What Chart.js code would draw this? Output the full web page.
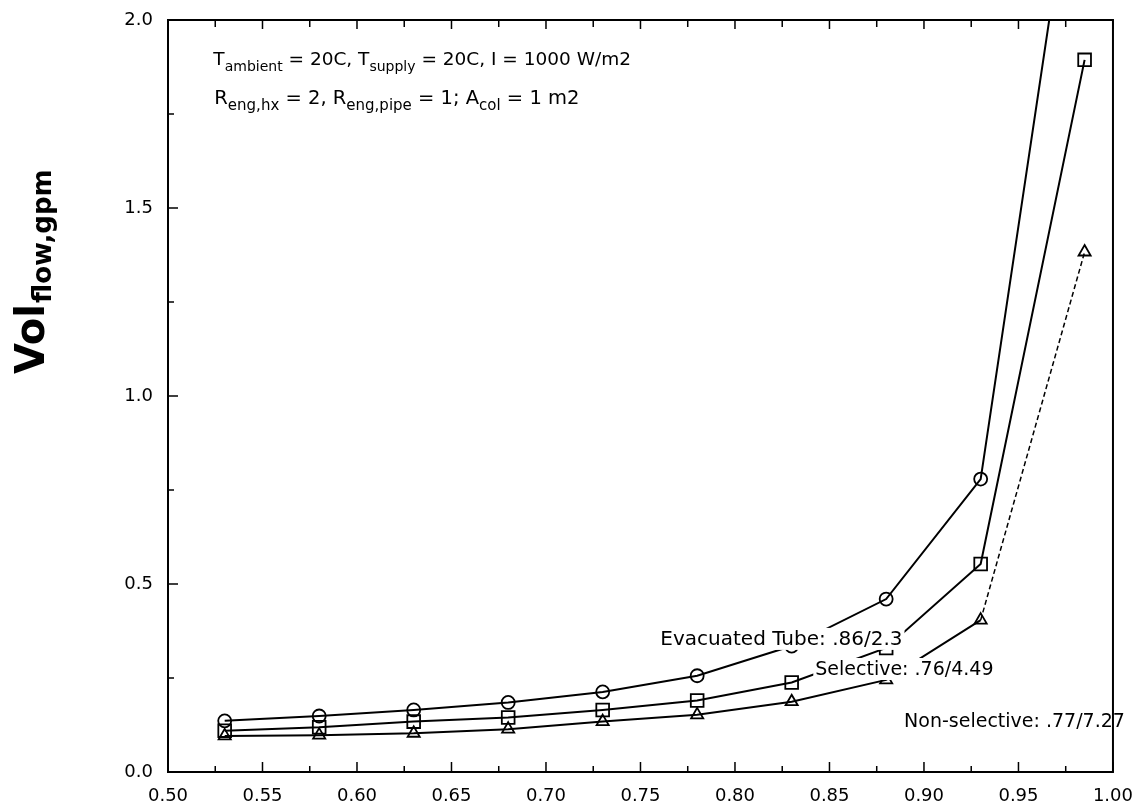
<!DOCTYPE html>
<html>
<head>
<meta charset="utf-8">
<script src="https://cdn.jsdelivr.net/npm/chart.js@4/dist/chart.umd.min.js"></script>
<style>
  body { margin: 0; background: #fff; }
  #wrap { width: 1139px; height: 809px; }
</style>
</head>
<body>
<div id="wrap"><canvas id="flow-chart"></canvas></div>
<script>
// efficiency values on x, flow rate (gpm) on y
const effValues = [0.53, 0.58, 0.63, 0.68, 0.73, 0.78, 0.83, 0.88, 0.93, 0.985];
const evacuatedFlow = [0.136, 0.149, 0.165, 0.185, 0.213, 0.256, 0.335, 0.46, 0.779, 2.63];
const selectiveFlow = [0.110, 0.119, 0.134, 0.145, 0.165, 0.190, 0.238, 0.33, 0.553, 1.894];
const nonSelectiveFlow = [0.096, 0.098, 0.103, 0.114, 0.134, 0.152, 0.187, 0.245, 0.404, 1.383];

const seriesLabels = ['Evacuated Tube: .86/2.3', 'Selective: .76/4.49', 'Non-selective: .77/7.27'];
const xTickStep = 0.05;
const yTickStep = 0.5;

const FONT = '"DejaVu Sans", sans-serif';

function toPoints(ys) {
  return effValues.map((x, i) => ({ x: x, y: ys[i] }));
}

// draw text made of normal and subscript pieces
function drawRich(ctx, parts, x, y, size) {
  let cx = x;
  parts.forEach(p => {
    const sub = p[1] === 'sub';
    ctx.font = (sub ? Math.round(size * 0.78) : size) + 'px ' + FONT;
    ctx.fillText(p[0], cx, sub ? y + size * 0.32 : y);
    cx += ctx.measureText(p[0]).width;
  });
  return cx - x;
}

const decorations = {
  id: 'decorations',
  afterDatasetsDraw(chart) {
    const ctx = chart.ctx;
    const a = chart.chartArea;
    const xs = chart.scales.x, ys = chart.scales.y;
    ctx.save();
    ctx.fillStyle = '#000';
    ctx.textBaseline = 'alphabetic';

    // curve labels, on white so they hide the lines behind them
    const labelSpots = [
      { text: seriesLabels[0], x: 0.7605, y: 0.338, size: 20 },
      { text: seriesLabels[1], x: 0.8425, y: 0.258, size: 19 },
      { text: seriesLabels[2], x: 0.8895, y: 0.120, size: 19 }
    ];
    labelSpots.forEach(l => {
      ctx.font = l.size + 'px ' + FONT;
      const px = xs.getPixelForValue(l.x);
      const py = ys.getPixelForValue(l.y);
      const w = ctx.measureText(l.text).width;
      ctx.fillStyle = '#fff';
      ctx.fillRect(px - 2, py - 17, w + 4, 22);
      ctx.fillStyle = '#000';
      ctx.fillText(l.text, px, py);
    });

    // conditions text at top left
    drawRich(ctx, [['T', ''], ['ambient', 'sub'], [' = 20C, T', ''], ['supply', 'sub'], [' = 20C, I = 1000 W/m2', '']],
      xs.getPixelForValue(0.524), ys.getPixelForValue(1.881), 18.5);
    drawRich(ctx, [['R', ''], ['eng,hx', 'sub'], [' = 2, R', ''], ['eng,pipe', 'sub'], [' = 1; A', ''], ['col', 'sub'], [' = 1 m2', '']],
      xs.getPixelForValue(0.5245), ys.getPixelForValue(1.777), 19.5);

    // frame
    ctx.strokeStyle = '#000';
    ctx.lineWidth = 2;
    ctx.strokeRect(a.left, a.top, a.right - a.left, a.bottom - a.top);

    // inward ticks: bottom, top and left
    ctx.lineWidth = 1.5;
    ctx.beginPath();
    for (let v = 0.5; v <= 1.0001; v += xTickStep / 2) {
      const px = xs.getPixelForValue(v);
      const major = Math.abs(Math.round(v / xTickStep) * xTickStep - v) < 1e-6;
      const len = major ? 10 : 6;
      ctx.moveTo(px, a.bottom); ctx.lineTo(px, a.bottom - len);
      ctx.moveTo(px, a.top); ctx.lineTo(px, a.top + (major ? 9 : 7));
    }
    for (let v = 0; v <= 2.0001; v += yTickStep / 2) {
      const py = ys.getPixelForValue(v);
      const major = Math.abs(Math.round(v / yTickStep) * yTickStep - v) < 1e-6;
      ctx.moveTo(a.left, py); ctx.lineTo(a.left + (major ? 10 : 6), py);
    }
    ctx.stroke();

    // y axis title, rotated, with subscript
    ctx.translate(44, 374);
    ctx.rotate(-Math.PI / 2);
    ctx.font = 'bold 40px ' + FONT;
    ctx.fillText('Vol', 0, 0);
    const w = ctx.measureText('Vol').width;
    ctx.font = 'bold 26px ' + FONT;
    ctx.fillText('flow,gpm', w + 1, 7);
    ctx.restore();
  }
};

const ctx = document.getElementById('flow-chart').getContext('2d');

const lineStyle = {
  borderColor: '#000',
  borderWidth: 2,
  pointBorderColor: '#000',
  pointBackgroundColor: 'rgba(0,0,0,0)',
  pointBorderWidth: 1.8,
  tension: 0,
  fill: false
};

new Chart(ctx, {
  type: 'line',
  data: {
    datasets: [
      Object.assign({ label: seriesLabels[0], data: toPoints(evacuatedFlow), pointStyle: 'circle', pointRadius: 6.5 }, lineStyle),
      Object.assign({ label: seriesLabels[1], data: toPoints(selectiveFlow), pointStyle: 'rect', pointRadius: 9 }, lineStyle),
      Object.assign({
        label: seriesLabels[2], data: toPoints(nonSelectiveFlow), pointStyle: 'triangle', pointRadius: 7,
        segment: { borderDash: c => c.p0DataIndex === 8 ? [5, 3] : undefined, borderWidth: c => c.p0DataIndex === 8 ? 1.5 : undefined }
      }, lineStyle)
    ]
  },
  options: {
    responsive: true,
    maintainAspectRatio: false,
    animation: false,
    layout: { autoPadding: false, padding: { top: 20, right: 21, left: 0, bottom: 0 } },
    plugins: { legend: { display: false }, tooltip: { enabled: false } },
    scales: {
      x: {
        type: 'linear',
        min: 0.5,
        max: 1.0,
        grid: { display: false },
        border: { display: false },
        afterFit: s => { s.height = 37; },
        afterBuildTicks: s => {
          const t = [];
          for (let v = 0.5; v <= 1.0001; v += xTickStep) t.push({ value: +v.toFixed(2) });
          s.ticks = t;
        },
        ticks: {
          color: '#000',
          padding: 6,
          maxRotation: 0,
          font: { family: 'DejaVu Sans', size: 18 },
          callback: v => v.toFixed(2)
        }
      },
      y: {
        min: 0,
        max: 2.0,
        grid: { display: false },
        border: { display: false },
        afterFit: s => { s.width = 168; },
        ticks: {
          stepSize: yTickStep,
          color: '#000',
          padding: 7,
          font: { family: 'DejaVu Sans', size: 18 },
          callback: v => v.toFixed(1)
        }
      }
    }
  },
  plugins: [decorations]
});
</script>
</body>
</html>
